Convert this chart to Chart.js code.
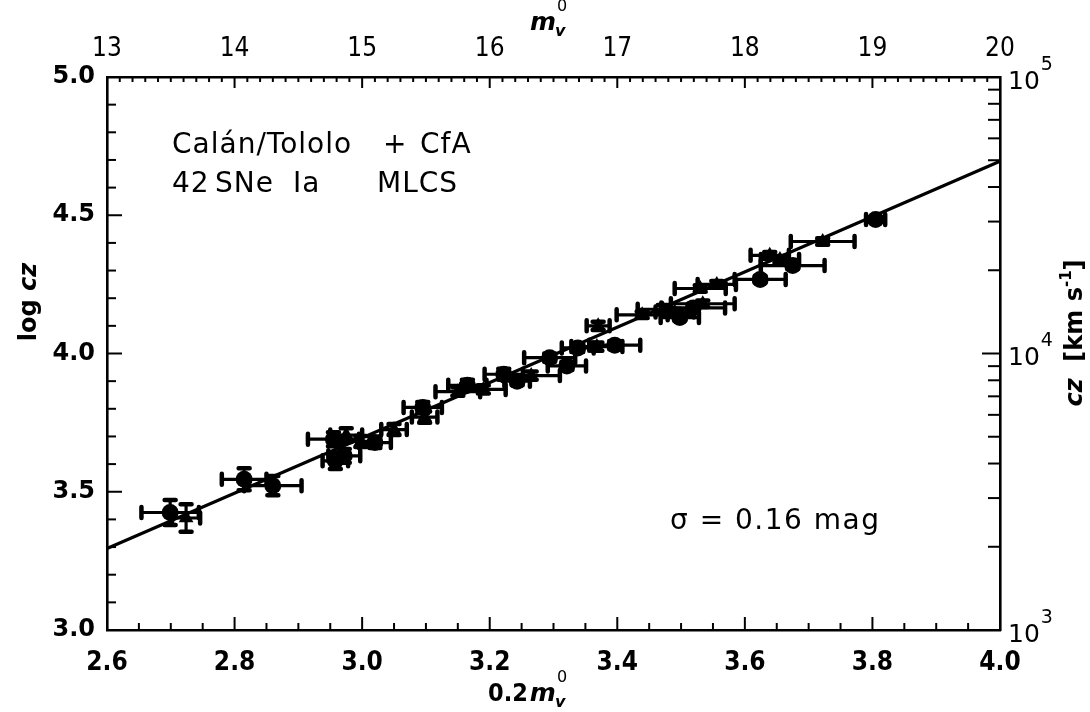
<!DOCTYPE html>
<html>
<head>
<meta charset="utf-8">
<script src="https://cdn.jsdelivr.net/npm/chart.js@4.4.0/dist/chart.umd.min.js"></script>
<style>
html,body{margin:0;padding:0;background:#fff;}
canvas{display:block;}
</style>
</head>
<body>
<canvas id="c" width="1090" height="712"></canvas>
<script>
// ---------- data ----------
// filled circles
const circX    = [2.699, 2.815, 2.860, 2.955, 2.958, 2.972, 3.020, 3.095, 3.165, 3.222, 3.243, 3.294, 3.321, 3.338, 3.396, 3.498, 3.519, 3.624, 3.675, 3.805];
const circY    = [3.425, 3.545, 3.522, 3.690, 3.612, 3.630, 3.678, 3.805, 3.885, 3.925, 3.900, 3.985, 3.955, 4.020, 4.030, 4.130, 4.165, 4.268, 4.318, 4.485];
const circXErr = [0.045, 0.035, 0.045, 0.040, 0.020, 0.025, 0.025, 0.030, 0.030, 0.030, 0.020, 0.040, 0.030, 0.025, 0.040, 0.030, 0.050, 0.040, 0.050, 0.015];
const circYErr = [0.045, 0.040, 0.035, 0.025, 0.030, 0.025, 0.020, 0.020, 0.020, 0.020, 0.015, 0.015, 0.015, 0.015, 0.015, 0.012, 0.015, 0.012, 0.012, 0.010];
// filled triangles
const triX    = [2.724, 2.975, 2.998, 3.050, 3.098, 3.150, 3.190, 3.265, 3.368, 3.370, 3.439, 3.472, 3.490, 3.534, 3.530, 3.556, 3.639, 3.655, 3.722];
const triY    = [3.405, 3.705, 3.682, 3.725, 3.770, 3.862, 3.870, 3.920, 4.025, 4.100, 4.140, 4.160, 4.150, 4.180, 4.235, 4.250, 4.355, 4.340, 4.405];
const triXErr = [0.022, 0.025, 0.030, 0.020, 0.020, 0.035, 0.035, 0.045, 0.040, 0.018, 0.040, 0.040, 0.030, 0.050, 0.040, 0.030, 0.030, 0.030, 0.050];
const triYErr = [0.050, 0.025, 0.020, 0.020, 0.020, 0.015, 0.015, 0.015, 0.015, 0.015, 0.012, 0.015, 0.012, 0.012, 0.012, 0.012, 0.012, 0.012, 0.012];
// fitted Hubble line
const fitX = [2.6, 4.0];
const fitY = [3.295, 4.695];
// axis ticks and labels
const bottomTicks  = [2.6, 2.8, 3.0, 3.2, 3.4, 3.6, 3.8, 4.0];
const bottomLabels = ['2.6', '2.8', '3.0', '3.2', '3.4', '3.6', '3.8', '4.0'];
const topTicks     = [13, 14, 15, 16, 17, 18, 19, 20];
const topLabels    = ['13', '14', '15', '16', '17', '18', '19', '20'];
const leftTicks    = [3.0, 3.5, 4.0, 4.5, 5.0];
const leftLabels   = ['3.0', '3.5', '4.0', '4.5', '5.0'];
const rightTicks   = [1e3, 1e4, 1e5];
const rightExp     = ['3', '4', '5'];
// texts
const noteLine1 = [['Calán/Tololo', 172], ['+', 383], ['CfA', 420]];
const noteLine2 = [['42', 172], ['SNe', 215], ['Ia', 293], ['MLCS', 377]];
const sigmaText = 'σ = 0.16 mag';

const GEO = '"DejaVu Sans", sans-serif';
const COND = '"DejaVu Sans Condensed", "Liberation Sans Narrow", "DejaVu Sans", sans-serif';
const NARROW = '"Liberation Sans Narrow", "DejaVu Sans Condensed", "Liberation Sans", sans-serif';

function pts(xs, ys) { return xs.map((x, i) => ({x: x, y: ys[i]})); }

// ---------- plugin: inward ticks, error bars, texts ----------
const decor = {
  id: 'decor',
  beforeDatasetsDraw(chart) {
    const ctx = chart.ctx;
    const sx = chart.scales.x, sy = chart.scales.y;
    ctx.save();
    ctx.strokeStyle = '#000';
    ctx.lineCap = 'round';
    chart.data.datasets.forEach(ds => {
      if (!ds.xErr) return;
      ds.data.forEach((p, i) => {
        const px = sx.getPixelForValue(p.x), py = sy.getPixelForValue(p.y);
        const x1 = sx.getPixelForValue(p.x - ds.xErr[i]), x2 = sx.getPixelForValue(p.x + ds.xErr[i]);
        const y1 = sy.getPixelForValue(p.y - ds.yErr[i]), y2 = sy.getPixelForValue(p.y + ds.yErr[i]);
        ctx.lineWidth = 3.2;
        ctx.beginPath();
        ctx.moveTo(x1, py); ctx.lineTo(x2, py);
        ctx.moveTo(px, y1); ctx.lineTo(px, y2);
        ctx.stroke();
        ctx.lineWidth = 4.5;
        const c = 5.5;
        ctx.beginPath();
        ctx.moveTo(x1, py - c); ctx.lineTo(x1, py + c);
        ctx.moveTo(x2, py - c); ctx.lineTo(x2, py + c);
        ctx.moveTo(px - c, y1); ctx.lineTo(px + c, y1);
        ctx.moveTo(px - c, y2); ctx.lineTo(px + c, y2);
        ctx.stroke();
      });
    });
    ctx.restore();
  },
  afterDraw(chart) {
    const ctx = chart.ctx;
    const a = chart.chartArea;
    const {x, x2, y, y2} = chart.scales;
    ctx.save();
    ctx.strokeStyle = '#000';
    ctx.fillStyle = '#000';
    ctx.lineCap = 'butt';
    ctx.lineWidth = 2;
    function tick(scale, v, len, side) {
      const p = scale.getPixelForValue(v);
      ctx.beginPath();
      if (side === 'b') { ctx.moveTo(p, a.bottom); ctx.lineTo(p, a.bottom - len); }
      if (side === 't') { ctx.moveTo(p, a.top); ctx.lineTo(p, a.top + len); }
      if (side === 'l') { ctx.moveTo(a.left, p); ctx.lineTo(a.left + len, p); }
      if (side === 'r') { ctx.moveTo(a.right, p); ctx.lineTo(a.right - len, p); }
      ctx.stroke();
    }
    // bottom: minor every 0.05
    for (let k = 0; k <= 28; k++) { const v = 2.6 + k * 0.05; tick(x, v, (k % 4 === 0) ? 13 : 7, 'b'); }
    // top: minor every 0.1 mag
    for (let k = 0; k <= 70; k++) { const v = 13 + k * 0.1; tick(x2, v, (k % 10 === 0) ? 11 : 5, 't'); }
    // left: minor every 0.1
    for (let k = 0; k <= 20; k++) { const v = 3 + k * 0.1; tick(y, v, (k % 5 === 0) ? 15 : 9, 'l'); }
    // right: logarithmic
    for (let d = 1e3; d < 1e5; d *= 10) {
      for (let m = 1; m <= 9; m++) tick(y2, d * m, m === 1 ? 18 : 12, 'r');
    }
    // right tick labels 10^n
    rightTicks.forEach((v, i) => {
      const p = y2.getPixelForValue(v);
      ctx.font = '25px ' + GEO;
      ctx.textAlign = 'left';
      ctx.textBaseline = 'middle';
      ctx.fillText('10', a.right + 8, p + 5);
      const w = ctx.measureText('10').width;
      ctx.font = '19px ' + GEO;
      ctx.fillText(rightExp[i], a.right + 8 + w + 1, p - 12);
    });
    // annotation text
    ctx.textAlign = 'left';
    ctx.textBaseline = 'alphabetic';
    ctx.font = '28px ' + GEO;
    try { ctx.letterSpacing = '1px'; } catch (e) {}
    noteLine1.forEach(t => ctx.fillText(t[0], t[1], 153));
    noteLine2.forEach(t => ctx.fillText(t[0], t[1], 192));
    try { ctx.letterSpacing = '1.5px'; } catch (e) {}
    ctx.fillText(sigmaText, 670, 529);
    try { ctx.letterSpacing = '0px'; } catch (e) {}
    // top title m_v^0
    function mv(xs, base, size) {
      ctx.font = 'bold italic ' + size + 'px ' + GEO;
      ctx.textAlign = 'left';
      ctx.fillText('m', xs, base);
      const w = ctx.measureText('m').width;
      ctx.font = 'bold italic ' + Math.round(size * 0.62) + 'px ' + GEO;
      ctx.fillText('v', xs + w - 1, base + 6);
      ctx.font = Math.round(size * 0.62) + 'px ' + GEO;
      ctx.fillText('0', xs + w + 1, base - size * 0.75);
      return w;
    }
    ctx.textBaseline = 'alphabetic';
    mv(530, 30, 25);
    // bottom title 0.2 m_v^0
    ctx.font = 'bold 25px ' + COND;
    ctx.textAlign = 'left';
    ctx.fillText('0.2', 488, 701);
    const w02 = ctx.measureText('0.2').width;
    mv(488 + w02 + 2, 701, 25);
    // left title: log cz
    ctx.save();
    ctx.translate(36, 302);
    ctx.rotate(-Math.PI / 2);
    ctx.font = 'bold 24px ' + GEO;
    const wl = ctx.measureText('log ').width;
    ctx.font = 'bold italic 24px ' + GEO;
    const wc = ctx.measureText('cz').width;
    const sx0 = -(wl + wc) / 2;
    ctx.textAlign = 'left';
    ctx.font = 'bold 24px ' + GEO;
    ctx.fillText('log ', sx0, 0);
    ctx.font = 'bold italic 24px ' + GEO;
    ctx.fillText('cz', sx0 + wl, 0);
    ctx.restore();
    // right title: cz [km s^-1]
    ctx.save();
    ctx.translate(1082, 333);
    ctx.rotate(-Math.PI / 2);
    ctx.textAlign = 'left';
    ctx.font = 'bold italic 24px ' + GEO;
    const p1 = 'cz', p2 = '  [km s', p3 = '-1', p4 = ']';
    const w1 = ctx.measureText(p1).width;
    ctx.font = 'bold 24px ' + GEO;
    const w2 = ctx.measureText(p2).width;
    ctx.font = 'bold 15px ' + GEO;
    const w3 = ctx.measureText(p3).width;
    ctx.font = 'bold 24px ' + GEO;
    const w4 = ctx.measureText(p4).width;
    let sxr = -(w1 + w2 + w3 + w4) / 2;
    ctx.font = 'bold italic 24px ' + GEO; ctx.fillText(p1, sxr, 0); sxr += w1;
    ctx.font = 'bold 24px ' + GEO; ctx.fillText(p2, sxr, 0); sxr += w2;
    ctx.font = 'bold 15px ' + GEO; ctx.fillText(p3, sxr, -11); sxr += w3;
    ctx.font = 'bold 24px ' + GEO; ctx.fillText(p4, sxr, 0);
    ctx.restore();
    ctx.restore();
  }
};

const border = {display: true, color: '#000', width: 2.6};
const noGrid = {display: false, drawTicks: false, tickLength: 0};

new Chart(document.getElementById('c'), {
  type: 'scatter',
  data: {
    datasets: [
      {
        type: 'line', data: pts(fitX, fitY), borderColor: '#000', borderWidth: 3.2,
        pointRadius: 0, fill: false, xAxisID: 'x', yAxisID: 'y', order: 3
      },
      {
        data: pts(circX, circY), xErr: circXErr, yErr: circYErr,
        pointStyle: 'circle', pointRadius: 8.5, backgroundColor: '#000', borderColor: '#000', borderWidth: 0,
        xAxisID: 'x', yAxisID: 'y', order: 1
      },
      {
        data: pts(triX, triY), xErr: triXErr, yErr: triYErr,
        pointStyle: 'triangle', pointRadius: 8.5, backgroundColor: '#000', borderColor: '#000', borderWidth: 0,
        xAxisID: 'x', yAxisID: 'y', order: 2
      }
    ]
  },
  options: {
    responsive: false,
    animation: false,
    devicePixelRatio: 1,
    layout: {padding: 0},
    plugins: {legend: {display: false}, tooltip: {enabled: false}},
    scales: {
      x: {
        type: 'linear', position: 'bottom', min: 2.6, max: 4.0,
        afterBuildTicks: s => { s.ticks = bottomTicks.map(v => ({value: v})); },
        afterFit: s => { s.height = 82; },
        ticks: {
          callback: (v, i) => bottomLabels[i], color: '#000', padding: 18,
          font: {family: COND, size: 26, weight: 'bold'}, maxRotation: 0, autoSkip: false
        },
        grid: noGrid, border: border
      },
      x2: {
        type: 'linear', position: 'top', min: 13, max: 20, display: true,
        afterBuildTicks: s => { s.ticks = topTicks.map(v => ({value: v})); },
        afterFit: s => { s.height = 77; },
        ticks: {
          callback: (v, i) => topLabels[i], color: '#000', padding: 12,
          font: {family: NARROW, size: 26, weight: 'normal'}, maxRotation: 0, autoSkip: false
        },
        grid: noGrid, border: border
      },
      y: {
        type: 'linear', position: 'left', min: 3.0, max: 5.0,
        afterBuildTicks: s => { s.ticks = leftTicks.map(v => ({value: v})); },
        afterFit: s => { s.width = 107; },
        ticks: {
          callback: (v, i) => leftLabels[i], color: '#000', padding: 12,
          font: {family: GEO, size: 24, weight: 'bold'}, autoSkip: false
        },
        grid: noGrid, border: border
      },
      y2: {
        type: 'logarithmic', position: 'right', min: 1e3, max: 1e5, display: true,
        afterBuildTicks: s => { s.ticks = rightTicks.map(v => ({value: v})); },
        afterFit: s => { s.width = 90; },
        ticks: {display: false},
        grid: noGrid, border: border
      }
    }
  },
  plugins: [decor]
});
</script>
</body>
</html>
